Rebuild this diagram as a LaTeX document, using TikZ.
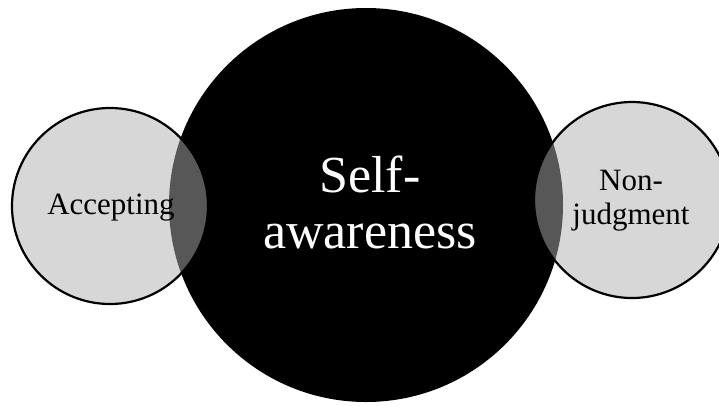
\documentclass[tikz,border=0pt]{standalone}
\usepackage{fontspec}
\setmainfont{Liberation Serif}
\usepackage{tikz}
\usetikzlibrary{positioning}

\definecolor{ringgray}{RGB}{177,175,177}

\begin{document}
\begin{tikzpicture}[
  x=1pt, y=-1pt,
  core/.style={circle, fill=black, minimum size=394pt, inner sep=0pt},
  side/.style={circle, draw=black, draw opacity=1, line width=2.2pt, fill=ringgray, fill opacity=0.5,
    minimum size=196pt, inner sep=0pt}
]
\useasboundingbox (0,0) rectangle (719,405);

\node[core] (self) at (366,205) {};
\node[text=white, align=center, font=\fontsize{52}{56}\selectfont] (selftext) at (370,202) {Self-\\awareness};

\node[side] (accept) at (110,206) {};
\node[font=\fontsize{31}{34}\selectfont] (accepttext) at (111,208) {Accepting};

\node[side] (nonjudge) at (632,200) {};
\node[align=center, font=\fontsize{31}{34}\selectfont] (nonjudgetext) at (631,201) {Non-\\judgment};
\end{tikzpicture}
\end{document}
